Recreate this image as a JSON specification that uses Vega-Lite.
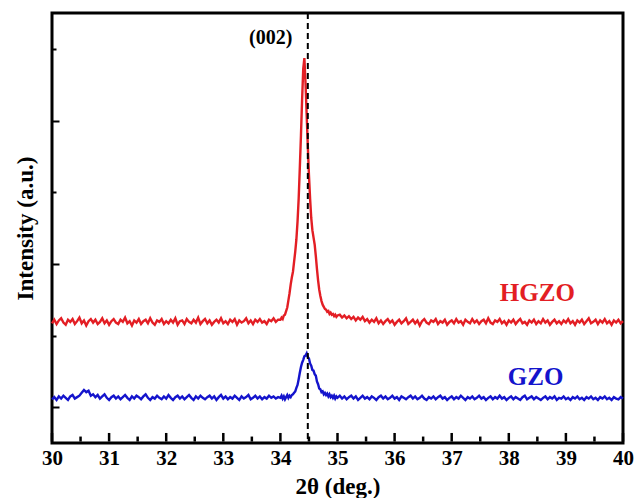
{
"$schema":"https://vega.github.io/schema/vega-lite/v6.json",
"width":571,"height":430,
"autosize":{"type":"none"},
"padding":{"left":52,"top":13,"right":12,"bottom":55},
"background":"white",
"config":{"view":{"stroke":"black","strokeWidth":3},"font":"Liberation Serif"},
"datasets":{
"xrd":[
{"t":30.00,"h":1.67,"g":0.61},{"t":30.04,"h":1.72,"g":0.64},{"t":30.08,"h":1.66,"g":0.60},{"t":30.12,"h":1.71,"g":0.65},{"t":30.16,"h":1.74,"g":0.62},{"t":30.20,"h":1.68,"g":0.66},{"t":30.24,"h":1.65,"g":0.63},{"t":30.28,"h":1.72,"g":0.60},{"t":30.32,"h":1.69,"g":0.65},{"t":30.36,"h":1.73,"g":0.67},
{"t":30.40,"h":1.66,"g":0.62},{"t":30.44,"h":1.70,"g":0.64},{"t":30.48,"h":1.75,"g":0.66},{"t":30.52,"h":1.67,"g":0.70},{"t":30.56,"h":1.71,"g":0.74},{"t":30.60,"h":1.64,"g":0.71},{"t":30.64,"h":1.70,"g":0.73},{"t":30.68,"h":1.73,"g":0.66},{"t":30.72,"h":1.68,"g":0.68},{"t":30.76,"h":1.72,"g":0.64},
{"t":30.80,"h":1.66,"g":0.67},{"t":30.84,"h":1.69,"g":0.62},{"t":30.88,"h":1.74,"g":0.65},{"t":30.92,"h":1.67,"g":0.68},{"t":30.96,"h":1.71,"g":0.63},{"t":31.00,"h":1.65,"g":0.60},{"t":31.04,"h":1.70,"g":0.64},{"t":31.08,"h":1.73,"g":0.66},{"t":31.12,"h":1.68,"g":0.62},{"t":31.16,"h":1.66,"g":0.65},
{"t":31.20,"h":1.72,"g":0.61},{"t":31.24,"h":1.69,"g":0.64},{"t":31.28,"h":1.75,"g":0.67},{"t":31.32,"h":1.67,"g":0.63},{"t":31.36,"h":1.70,"g":0.60},{"t":31.40,"h":1.64,"g":0.65},{"t":31.44,"h":1.71,"g":0.62},{"t":31.48,"h":1.68,"g":0.66},{"t":31.52,"h":1.73,"g":0.64},{"t":31.56,"h":1.66,"g":0.61},
{"t":31.60,"h":1.70,"g":0.65},{"t":31.64,"h":1.72,"g":0.68},{"t":31.68,"h":1.67,"g":0.63},{"t":31.72,"h":1.74,"g":0.60},{"t":31.76,"h":1.68,"g":0.64},{"t":31.80,"h":1.65,"g":0.62},{"t":31.84,"h":1.71,"g":0.66},{"t":31.88,"h":1.69,"g":0.63},{"t":31.92,"h":1.73,"g":0.61},{"t":31.96,"h":1.66,"g":0.65},
{"t":32.00,"h":1.70,"g":0.62},{"t":32.04,"h":1.67,"g":0.67},{"t":32.08,"h":1.72,"g":0.63},{"t":32.12,"h":1.68,"g":0.60},{"t":32.16,"h":1.74,"g":0.64},{"t":32.20,"h":1.65,"g":0.66},{"t":32.24,"h":1.70,"g":0.62},{"t":32.28,"h":1.71,"g":0.65},{"t":32.32,"h":1.66,"g":0.61},{"t":32.36,"h":1.73,"g":0.64},
{"t":32.40,"h":1.69,"g":0.67},{"t":32.44,"h":1.67,"g":0.63},{"t":32.48,"h":1.72,"g":0.60},{"t":32.52,"h":1.68,"g":0.65},{"t":32.56,"h":1.75,"g":0.62},{"t":32.60,"h":1.66,"g":0.66},{"t":32.64,"h":1.70,"g":0.63},{"t":32.68,"h":1.73,"g":0.61},{"t":32.72,"h":1.67,"g":0.64},{"t":32.76,"h":1.71,"g":0.66},
{"t":32.80,"h":1.65,"g":0.62},{"t":32.84,"h":1.69,"g":0.65},{"t":32.88,"h":1.72,"g":0.60},{"t":32.92,"h":1.68,"g":0.64},{"t":32.96,"h":1.74,"g":0.67},{"t":33.00,"h":1.67,"g":0.62},{"t":33.04,"h":1.70,"g":0.65},{"t":33.08,"h":1.66,"g":0.61},{"t":33.12,"h":1.72,"g":0.64},{"t":33.16,"h":1.69,"g":0.62},
{"t":33.20,"h":1.73,"g":0.66},{"t":33.24,"h":1.65,"g":0.63},{"t":33.28,"h":1.71,"g":0.60},{"t":33.32,"h":1.68,"g":0.65},{"t":33.36,"h":1.70,"g":0.62},{"t":33.40,"h":1.74,"g":0.64},{"t":33.44,"h":1.67,"g":0.67},{"t":33.48,"h":1.71,"g":0.61},{"t":33.52,"h":1.66,"g":0.63},{"t":33.56,"h":1.72,"g":0.66},
{"t":33.60,"h":1.69,"g":0.62},{"t":33.64,"h":1.73,"g":0.65},{"t":33.68,"h":1.68,"g":0.61},{"t":33.72,"h":1.70,"g":0.64},{"t":33.76,"h":1.66,"g":0.62},{"t":33.80,"h":1.72,"g":0.66},{"t":33.84,"h":1.70,"g":0.63},{"t":33.88,"h":1.74,"g":0.65},{"t":33.92,"h":1.69,"g":0.62},{"t":33.96,"h":1.72,"g":0.64},
{"t":34.00,"h":1.72,"g":0.63},{"t":34.02,"h":1.75,"g":0.66},{"t":34.04,"h":1.73,"g":0.62},{"t":34.06,"h":1.78,"g":0.65},{"t":34.08,"h":1.79,"g":0.61},{"t":34.10,"h":1.84,"g":0.64},{"t":34.12,"h":1.89,"g":0.67},{"t":34.14,"h":1.99,"g":0.63},{"t":34.16,"h":2.09,"g":0.66},{"t":34.18,"h":2.21,"g":0.64},
{"t":34.20,"h":2.31,"g":0.67},{"t":34.22,"h":2.39,"g":0.68},{"t":34.24,"h":2.53,"g":0.70},{"t":34.26,"h":2.67,"g":0.72},{"t":34.28,"h":2.84,"g":0.77},{"t":34.30,"h":3.09,"g":0.81},{"t":34.32,"h":3.41,"g":0.89},{"t":34.34,"h":3.84,"g":0.98},{"t":34.36,"h":4.29,"g":1.06},{"t":34.38,"h":4.79,"g":1.12},
{"t":34.40,"h":5.22,"g":1.16},{"t":34.42,"h":5.37,"g":1.21},{"t":34.44,"h":5.02,"g":1.22},{"t":34.46,"h":4.58,"g":1.25},{"t":34.48,"h":4.14,"g":1.20},{"t":34.50,"h":3.74,"g":1.18},{"t":34.52,"h":3.41,"g":1.11},{"t":34.54,"h":3.14,"g":1.08},{"t":34.56,"h":2.97,"g":1.02},{"t":34.58,"h":2.87,"g":1.01},
{"t":34.60,"h":2.77,"g":0.96},{"t":34.62,"h":2.61,"g":0.94},{"t":34.64,"h":2.43,"g":0.86},{"t":34.66,"h":2.27,"g":0.82},{"t":34.68,"h":2.14,"g":0.76},{"t":34.70,"h":2.05,"g":0.75},{"t":34.72,"h":1.98,"g":0.71},{"t":34.74,"h":1.93,"g":0.72},{"t":34.76,"h":1.90,"g":0.68},{"t":34.78,"h":1.87,"g":0.70},
{"t":34.80,"h":1.86,"g":0.67},{"t":34.82,"h":1.83,"g":0.69},{"t":34.84,"h":1.84,"g":0.65},{"t":34.86,"h":1.80,"g":0.68},{"t":34.88,"h":1.82,"g":0.64},{"t":34.90,"h":1.79,"g":0.66},{"t":34.92,"h":1.80,"g":0.63},{"t":34.94,"h":1.77,"g":0.66},{"t":34.96,"h":1.79,"g":0.62},{"t":34.98,"h":1.76,"g":0.65},
{"t":35.00,"h":1.78,"g":0.63},
{"t":35.04,"h":1.79,"g":0.66},{"t":35.08,"h":1.75,"g":0.62},{"t":35.12,"h":1.78,"g":0.65},{"t":35.16,"h":1.74,"g":0.61},{"t":35.20,"h":1.77,"g":0.64},{"t":35.24,"h":1.73,"g":0.66},{"t":35.28,"h":1.76,"g":0.62},{"t":35.32,"h":1.71,"g":0.65},{"t":35.36,"h":1.75,"g":0.60},{"t":35.40,"h":1.72,"g":0.63},
{"t":35.44,"h":1.76,"g":0.66},{"t":35.48,"h":1.70,"g":0.62},{"t":35.52,"h":1.73,"g":0.64},{"t":35.56,"h":1.68,"g":0.61},{"t":35.60,"h":1.72,"g":0.65},{"t":35.64,"h":1.69,"g":0.63},{"t":35.68,"h":1.74,"g":0.60},{"t":35.72,"h":1.67,"g":0.64},{"t":35.76,"h":1.71,"g":0.66},{"t":35.80,"h":1.66,"g":0.62},
{"t":35.84,"h":1.70,"g":0.65},{"t":35.88,"h":1.73,"g":0.61},{"t":35.92,"h":1.68,"g":0.63},{"t":35.96,"h":1.71,"g":0.66},{"t":36.00,"h":1.65,"g":0.62},{"t":36.04,"h":1.69,"g":0.64},{"t":36.08,"h":1.72,"g":0.60},{"t":36.12,"h":1.67,"g":0.65},{"t":36.16,"h":1.70,"g":0.63},{"t":36.20,"h":1.74,"g":0.61},
{"t":36.24,"h":1.66,"g":0.64},{"t":36.28,"h":1.69,"g":0.66},{"t":36.32,"h":1.72,"g":0.62},{"t":36.36,"h":1.67,"g":0.65},{"t":36.40,"h":1.71,"g":0.61},{"t":36.44,"h":1.64,"g":0.63},{"t":36.48,"h":1.70,"g":0.66},{"t":36.52,"h":1.73,"g":0.62},{"t":36.56,"h":1.68,"g":0.60},{"t":36.60,"h":1.66,"g":0.64},
{"t":36.64,"h":1.71,"g":0.62},{"t":36.68,"h":1.69,"g":0.65},{"t":36.72,"h":1.73,"g":0.61},{"t":36.76,"h":1.66,"g":0.64},{"t":36.80,"h":1.70,"g":0.66},{"t":36.84,"h":1.68,"g":0.62},{"t":36.88,"h":1.72,"g":0.64},{"t":36.92,"h":1.65,"g":0.60},{"t":36.96,"h":1.69,"g":0.63},{"t":37.00,"h":1.71,"g":0.65},
{"t":37.04,"h":1.67,"g":0.61},{"t":37.08,"h":1.73,"g":0.64},{"t":37.12,"h":1.68,"g":0.62},{"t":37.16,"h":1.70,"g":0.66},{"t":37.20,"h":1.65,"g":0.63},{"t":37.24,"h":1.72,"g":0.60},{"t":37.28,"h":1.69,"g":0.64},{"t":37.32,"h":1.67,"g":0.62},{"t":37.36,"h":1.73,"g":0.65},{"t":37.40,"h":1.68,"g":0.61},
{"t":37.44,"h":1.71,"g":0.63},{"t":37.48,"h":1.66,"g":0.66},{"t":37.52,"h":1.70,"g":0.62},{"t":37.56,"h":1.72,"g":0.64},{"t":37.60,"h":1.67,"g":0.60},{"t":37.64,"h":1.74,"g":0.63},{"t":37.68,"h":1.68,"g":0.65},{"t":37.72,"h":1.66,"g":0.61},{"t":37.76,"h":1.71,"g":0.64},{"t":37.80,"h":1.69,"g":0.62},
{"t":37.84,"h":1.73,"g":0.66},{"t":37.88,"h":1.67,"g":0.62},{"t":37.92,"h":1.70,"g":0.64},{"t":37.96,"h":1.65,"g":0.60},{"t":38.00,"h":1.71,"g":0.63},{"t":38.04,"h":1.68,"g":0.65},{"t":38.08,"h":1.72,"g":0.61},{"t":38.12,"h":1.66,"g":0.64},{"t":38.16,"h":1.70,"g":0.62},{"t":38.20,"h":1.73,"g":0.60},
{"t":38.24,"h":1.67,"g":0.64},{"t":38.28,"h":1.69,"g":0.66},{"t":38.32,"h":1.65,"g":0.61},{"t":38.36,"h":1.71,"g":0.63},{"t":38.40,"h":1.68,"g":0.65},{"t":38.44,"h":1.72,"g":0.61},{"t":38.48,"h":1.66,"g":0.64},{"t":38.52,"h":1.70,"g":0.62},{"t":38.56,"h":1.67,"g":0.60},{"t":38.60,"h":1.73,"g":0.63},
{"t":38.64,"h":1.68,"g":0.65},{"t":38.68,"h":1.71,"g":0.61},{"t":38.72,"h":1.65,"g":0.64},{"t":38.76,"h":1.69,"g":0.62},{"t":38.80,"h":1.72,"g":0.65},{"t":38.84,"h":1.67,"g":0.60},{"t":38.88,"h":1.70,"g":0.63},{"t":38.92,"h":1.66,"g":0.62},{"t":38.96,"h":1.71,"g":0.65},{"t":39.00,"h":1.68,"g":0.61},
{"t":39.04,"h":1.73,"g":0.63},{"t":39.08,"h":1.67,"g":0.60},{"t":39.12,"h":1.70,"g":0.64},{"t":39.16,"h":1.65,"g":0.62},{"t":39.20,"h":1.71,"g":0.65},{"t":39.24,"h":1.68,"g":0.61},{"t":39.28,"h":1.72,"g":0.63},{"t":39.32,"h":1.66,"g":0.60},{"t":39.36,"h":1.70,"g":0.64},{"t":39.40,"h":1.74,"g":0.62},
{"t":39.44,"h":1.67,"g":0.65},{"t":39.48,"h":1.69,"g":0.61},{"t":39.52,"h":1.72,"g":0.63},{"t":39.56,"h":1.66,"g":0.60},{"t":39.60,"h":1.71,"g":0.64},{"t":39.64,"h":1.68,"g":0.62},{"t":39.68,"h":1.73,"g":0.65},{"t":39.72,"h":1.67,"g":0.61},{"t":39.76,"h":1.70,"g":0.63},{"t":39.80,"h":1.65,"g":0.60},
{"t":39.84,"h":1.71,"g":0.64},{"t":39.88,"h":1.68,"g":0.62},{"t":39.92,"h":1.72,"g":0.61},{"t":39.96,"h":1.67,"g":0.64},{"t":40.00,"h":1.70,"g":0.62}
],
"labels":[
{"x":33.83,"y":5.65,"label":"(002)","kind":"peak"},
{"x":38.5,"y":2.09,"label":"HGZO","kind":"h"},
{"x":38.47,"y":0.92,"label":"GZO","kind":"g"}
],
"xticks":[
{"v":30,"major":1},{"v":30.5,"major":0},{"v":31,"major":1},{"v":31.5,"major":0},{"v":32,"major":1},{"v":32.5,"major":0},{"v":33,"major":1},{"v":33.5,"major":0},{"v":34,"major":1},{"v":34.5,"major":0},{"v":35,"major":1},
{"v":35.5,"major":0},{"v":36,"major":1},{"v":36.5,"major":0},{"v":37,"major":1},{"v":37.5,"major":0},{"v":38,"major":1},{"v":38.5,"major":0},{"v":39,"major":1},{"v":39.5,"major":0},{"v":40,"major":1}
]
},
"layer":[
{
"data":{"name":"xrd"},
"transform":[{"fold":["h","g"],"as":["series","intensity"]}],
"mark":{"type":"line","strokeWidth":2.4},
"encoding":{
"x":{"field":"t","type":"quantitative","scale":{"domain":[30,40],"nice":false,"zero":false},
"axis":{"title":"2θ (deg.)","values":[30,31,32,33,34,35,36,37,38,39,40],
"format":"d","domain":false,"grid":false,"labelFlush":false,"labelOverlap":false,
"ticks":false,
"labelFont":"Liberation Serif","labelFontWeight":"bold","labelFontSize":21,"labelColor":"black","labelPadding":4,
"titleFont":"Liberation Serif","titleFontWeight":"bold","titleFontSize":23,"titleColor":"black","titlePadding":7}},
"y":{"field":"intensity","type":"quantitative","scale":{"domain":[0,6],"nice":false,"zero":false},
"axis":{"title":"Intensity (a.u.)","values":[0.5,1.5,2.5,3.5,4.5,5.5],"labels":false,"domain":false,"grid":false,"zindex":1,
"tickColor":"black","tickWidth":2,
"tickSize":{"condition":{"test":"datum.value % 2 === 0.5","value":-7},"value":-4},
"titleFont":"Liberation Serif","titleFontWeight":"bold","titleFontSize":23,"titleColor":"black","titlePadding":14}},
"color":{"field":"series","type":"nominal","scale":{"domain":["h","g"],"range":["#e31e24","#1414cc"]},"legend":null}
}
},
{
"data":{"values":[{"pos":34.48}]},
"mark":{"type":"rule","strokeDash":[6,4],"strokeWidth":2,"color":"black"},
"encoding":{"x":{"field":"pos","type":"quantitative"}}
},
{
"data":{"name":"xticks"},
"transform":[{"filter":"datum.major == 1"}],
"mark":{"type":"rule","strokeWidth":2.5,"color":"black"},
"encoding":{"x":{"field":"v","type":"quantitative"},"y":{"datum":0.02,"type":"quantitative"},"y2":{"datum":0.14}}
},
{
"data":{"name":"xticks"},
"transform":[{"filter":"datum.major == 0"}],
"mark":{"type":"rule","strokeWidth":2.5,"color":"black"},
"encoding":{"x":{"field":"v","type":"quantitative"},"y":{"datum":0.02,"type":"quantitative"},"y2":{"datum":0.09}}
},
{
"data":{"name":"labels"},
"transform":[{"filter":"datum.kind === 'peak'"}],
"mark":{"type":"text","font":"Liberation Serif","fontWeight":"bold","fontSize":20,"color":"black"},
"encoding":{"x":{"field":"x","type":"quantitative"},"y":{"field":"y","type":"quantitative"},"text":{"field":"label"}}
},
{
"data":{"name":"labels"},
"transform":[{"filter":"datum.kind === 'h'"}],
"mark":{"type":"text","font":"Liberation Serif","fontWeight":"bold","fontSize":25,"color":"#e31e24"},
"encoding":{"x":{"field":"x","type":"quantitative"},"y":{"field":"y","type":"quantitative"},"text":{"field":"label"}}
},
{
"data":{"name":"labels"},
"transform":[{"filter":"datum.kind === 'g'"}],
"mark":{"type":"text","font":"Liberation Serif","fontWeight":"bold","fontSize":25,"color":"#1414cc"},
"encoding":{"x":{"field":"x","type":"quantitative"},"y":{"field":"y","type":"quantitative"},"text":{"field":"label"}}
}
]
}
